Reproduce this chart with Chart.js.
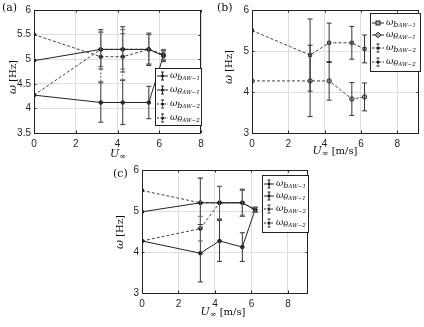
<!DOCTYPE html>
<html>
<head>
<meta charset="utf-8">
<script src="https://cdn.jsdelivr.net/npm/chart.js@4.4.1/dist/chart.umd.min.js"></script>
<style>
  body { margin: 0; background: #fff; width: 424px; height: 327px; position: relative; overflow: hidden; }
  .pan { position: absolute; }
  .tag { position: absolute; font-family: "DejaVu Serif", serif; font-size: 11px; color: #111; }
</style>
</head>
<body>
<div class="pan" style="left:0;top:0;width:212px;height:165px"><canvas id="ca"></canvas></div>
<div class="pan" style="left:212px;top:0;width:212px;height:165px"><canvas id="cb"></canvas></div>
<div class="pan" style="left:100px;top:160px;width:220px;height:167px"><canvas id="cc"></canvas></div>
<div class="tag" style="left:2px;top:1px">(a)</div>
<div class="tag" style="left:217px;top:1px">(b)</div>
<div class="tag" style="left:113px;top:167px">(c)</div>
<script>
// wind speeds [m/s]
const U = [0, 3.2, 4.25, 5.5, 6.2];

// (a)
const aB1 = [4.97, 5.2, 5.2, 5.2, 5.07];
const aB1err = [0, 0.4, 0.46, 0.33, 0.12];
const aT1 = [4.27, 4.12, 4.12, 4.12, 5.07];
const aT1err = [0, 0.4, 0.45, 0.33, 0.1];
const aB2 = [5.5, 5.05, 5.05, 5.2, 5.1];
const aB2err = [0, 0.5, 0.47, 0.3, 0.1];
const aT2 = [4.27, 5.2, 5.2, 5.2, 5.07];
const aT2err = [0, 0.35, 0.4, 0.3, 0.1];

// (b)
const bB2 = [5.5, 4.9, 5.2, 5.2, 5.05];
const bB2err = [0, 0.88, 0.48, 0.4, 0.34];
const bT2 = [4.27, 4.27, 4.27, 3.83, 3.88];
const bT2err = [0, 0.87, 0.47, 0.4, 0.34];

// (c)
const cB1 = [4.98, 5.2, 5.2, 5.2, 5.03];
const cB1err = [0, 0.6, 0.4, 0.33, 0.06];
const cT1 = [4.27, 3.97, 4.27, 4.12, 5.03];
const cT1err = [0, 0.7, 0.5, 0.35, 0.06];
const cB2 = [5.5, 5.2, 5.2, 5.2, 5.03];
const cB2err = [0, 0.6, 0.4, 0.33, 0.06];
const cT2 = [4.27, 4.57, 5.2, 5.2, 5.03];
const cT2err = [0, 0.3, 0.4, 0.3, 0.06];

const xTicks = [0, 2, 4, 6, 8];
const yTicksA = [3.5, 4, 4.5, 5, 5.5, 6];
const yTicksBC = [3, 4, 5, 6];

const legendNames = [["b", "AW\u22121"], ["\u03b8", "AW\u22121"], ["b", "AW\u22122"], ["\u03b8", "AW\u22122"]];

const SERIF = '"DejaVu Serif", serif';
const INK = "#222";

function pts(ys) { return U.map((x, i) => ({ x: x, y: ys[i] })); }

function series(ys, err, dashed, extra) {
  return Object.assign({
    data: pts(ys),
    err: err,
    borderColor: dashed ? "#444" : INK,
    borderWidth: 1,
    borderDash: dashed ? [3, 2] : [],
    pointRadius: 1.8,
    pointBackgroundColor: INK,
    pointBorderColor: INK,
    errColor: dashed ? "#666" : "#333",
    errDash: dashed ? [2, 1.5] : [],
    tension: 0
  }, extra || {});
}

function richText(ctx, parts, x, y, align) {
  let w = 0;
  parts.forEach(p => { ctx.font = p.f; w += ctx.measureText(p.t).width; });
  let cx = align === "center" ? x - w / 2 : x;
  parts.forEach(p => {
    ctx.font = p.f;
    ctx.fillText(p.t, cx, y + (p.dy || 0));
    cx += ctx.measureText(p.t).width;
  });
}

function errGlyph(ctx, x, y, dashed) {
  ctx.save();
  ctx.strokeStyle = INK;
  ctx.lineWidth = 1;
  ctx.setLineDash(dashed ? [1.5, 1] : []);
  ctx.beginPath();
  ctx.moveTo(x, y - 4); ctx.lineTo(x, y + 4);
  ctx.stroke();
  ctx.setLineDash([]);
  ctx.beginPath();
  ctx.moveTo(x - 1.5, y - 4); ctx.lineTo(x + 1.5, y - 4);
  ctx.moveTo(x - 1.5, y + 4); ctx.lineTo(x + 1.5, y + 4);
  ctx.stroke();
  ctx.fillStyle = INK;
  ctx.beginPath(); ctx.arc(x, y, 1.5, 0, Math.PI * 2); ctx.fill();
  ctx.restore();
}

const decor = {
  id: "decor",
  afterDatasetsDraw(chart) {
    const ctx = chart.ctx, xs = chart.scales.x, ys = chart.scales.y;
    const a = chart.chartArea;
    ctx.save();
    ctx.beginPath(); ctx.rect(a.left, a.top, a.right - a.left, a.bottom - a.top); ctx.clip();
    chart.data.datasets.forEach(ds => {
      if (!ds.err) return;
      ctx.strokeStyle = ds.errColor;
      ctx.lineWidth = 1;
      ds.data.forEach((p, i) => {
        const e = ds.err[i];
        if (!e) return;
        const px = xs.getPixelForValue(p.x);
        const lo = ys.getPixelForValue(p.y - e), hi = ys.getPixelForValue(p.y + e);
        ctx.setLineDash(ds.errDash);
        ctx.beginPath(); ctx.moveTo(px, lo); ctx.lineTo(px, hi); ctx.stroke();
        ctx.setLineDash([]);
        ctx.beginPath();
        ctx.moveTo(px - 2.5, lo); ctx.lineTo(px + 2.5, lo);
        ctx.moveTo(px - 2.5, hi); ctx.lineTo(px + 2.5, hi);
        ctx.stroke();
      });
    });
    ctx.restore();
  },
  afterDraw(chart) {
    const o = chart.options.plugins.decor;
    const ctx = chart.ctx, a = chart.chartArea;
    ctx.save();
    // box and inward ticks
    ctx.strokeStyle = INK; ctx.lineWidth = 1;
    ctx.strokeRect(Math.round(a.left) + 0.5, Math.round(a.top) + 0.5, Math.round(a.right - a.left) - 1, Math.round(a.bottom - a.top));
    ctx.beginPath();
    chart.scales.x.ticks.forEach(t => {
      const px = Math.round(chart.scales.x.getPixelForValue(t.value)) + 0.5;
      ctx.moveTo(px, a.bottom); ctx.lineTo(px, a.bottom - 2.5);
      ctx.moveTo(px, a.top); ctx.lineTo(px, a.top + 2.5);
    });
    chart.scales.y.ticks.forEach(t => {
      const py = Math.round(chart.scales.y.getPixelForValue(t.value)) + 0.5;
      ctx.moveTo(a.left, py); ctx.lineTo(a.left + 2.5, py);
      ctx.moveTo(a.right, py); ctx.lineTo(a.right - 2.5, py);
    });
    ctx.stroke();

    ctx.fillStyle = "#111";
    ctx.textBaseline = "middle";
    // x title
    const xt = [{ t: "U", f: "italic 11px " + SERIF }, { t: "\u221e", f: "8px " + SERIF, dy: 3 }];
    if (o.units) xt.push({ t: " [m/s]", f: "10px " + SERIF });
    richText(ctx, xt, o.xTitle[0], o.xTitle[1], "center");
    // y title
    ctx.save();
    ctx.translate(o.yTitle[0], o.yTitle[1]);
    ctx.rotate(-Math.PI / 2);
    richText(ctx, [{ t: "\u03c9", f: "italic 11px " + SERIF }, { t: " [Hz]", f: "10px " + SERIF }], 0, 0, "center");
    ctx.restore();

    // legend
    const L = o.legend;
    ctx.fillStyle = "#fff";
    ctx.fillRect(L.box[0], L.box[1], L.box[2], L.box[3]);
    ctx.strokeStyle = INK; ctx.lineWidth = 1;
    ctx.strokeRect(L.box[0] + 0.5, L.box[1] + 0.5, L.box[2], L.box[3]);
    L.rows.forEach((ry, k) => {
      const dashed = L.dash[k];
      ctx.strokeStyle = INK;
      ctx.setLineDash(dashed ? [2, 1.5] : []);
      ctx.beginPath(); ctx.moveTo(L.x0, ry); ctx.lineTo(L.x1, ry); ctx.stroke();
      ctx.setLineDash([]);
      const mx = (L.x0 + L.x1) / 2;
      if (L.marks[k] === "rect") {
        ctx.fillStyle = "#aaa"; ctx.fillRect(mx - 2, ry - 2, 4, 4);
        ctx.strokeRect(mx - 2, ry - 2, 4, 4);
      } else if (L.marks[k] === "diamond") {
        ctx.fillStyle = "#aaa";
        ctx.beginPath(); ctx.moveTo(mx, ry - 2.8); ctx.lineTo(mx + 2.8, ry); ctx.lineTo(mx, ry + 2.8); ctx.lineTo(mx - 2.8, ry); ctx.closePath();
        ctx.fill(); ctx.stroke();
      } else {
        errGlyph(ctx, mx, ry, dashed);
      }
      ctx.fillStyle = "#111";
      const nm = legendNames[k];
      richText(ctx, [
        { t: "\u03c9", f: "italic 9px " + SERIF },
        { t: nm[0], f: "italic 8px " + SERIF, dy: 1.5 },
        { t: nm[1], f: "italic 5.5px " + SERIF, dy: 3 }
      ], L.x1 + 2, ry, "left");
    });
    ctx.restore();
  }
};

function makeChart(id, datasets, cfg) {
  return new Chart(document.getElementById(id), {
    type: "line",
    data: { datasets: datasets },
    plugins: [decor],
    options: {
      responsive: true,
      maintainAspectRatio: false,
      animation: false,
      layout: { padding: { left: 0, right: cfg.padRight, top: 10, bottom: 0 } },
      plugins: { legend: { display: false }, tooltip: { enabled: false }, decor: cfg.decor },
      scales: {
        x: {
          type: "linear", min: 0, max: cfg.xMax,
          afterBuildTicks: s => { s.ticks = xTicks.map(v => ({ value: v })); },
          afterFit: s => { s.height = cfg.xH; },
          grid: { color: "#dedede", drawTicks: false },
          border: { display: false },
          ticks: { padding: 5, color: "#262626", font: { family: "Liberation Sans", size: 10 }, callback: v => String(v) }
        },
        y: {
          min: cfg.yTicks[0], max: cfg.yTicks[cfg.yTicks.length - 1],
          afterBuildTicks: s => { s.ticks = cfg.yTicks.map(v => ({ value: v })); },
          afterFit: s => { s.width = cfg.yW; },
          grid: { color: "#dedede", drawTicks: false },
          border: { display: false },
          ticks: { padding: 3, color: "#262626", font: { family: "Liberation Sans", size: 10 }, callback: v => String(v) }
        }
      }
    }
  });
}

makeChart("ca", [
  series(aB1, aB1err, false),
  series(aT1, aT1err, false),
  series(aB2, aB2err, true),
  series(aT2, aT2err, true)
], {
  xMax: 8, yTicks: yTicksA, padRight: 11, xH: 32, yW: 34,
  decor: {
    xTitle: [118, 154], yTitle: [13, 77], units: false,
    legend: { box: [155, 68, 46, 57], rows: [76, 90, 104, 118], x0: 157, x1: 168,
      dash: [false, false, true, true], marks: ["err", "err", "err", "err"] }
  }
});

const bMarks = { pointRadius: 2.2, pointBackgroundColor: "#aaa", pointBorderColor: "#333", errColor: "#333", errDash: [] };
makeChart("cb", [
  series(bB2, bB2err, true, Object.assign({ pointStyle: "rect" }, bMarks)),
  series(bT2, bT2err, true, Object.assign({ pointStyle: "circle" }, bMarks))
], {
  xMax: 9.2, yTicks: yTicksBC, padRight: 4, xH: 32, yW: 40,
  decor: {
    xTitle: [123, 151], yTitle: [17, 67], units: true,
    legend: { box: [158, 13, 50, 58], rows: [23, 35, 48, 62], x0: 160, x1: 172,
      dash: [false, false, true, true], marks: ["rect", "diamond", "err", "err"] }
  }
});

makeChart("cc", [
  series(cB1, cB1err, false),
  series(cT1, cT1err, false),
  series(cB2, cB2err, true),
  series(cT2, cT2err, true)
], {
  xMax: 9.1, yTicks: yTicksBC, padRight: 12, xH: 34, yW: 42,
  decor: {
    xTitle: [123, 152], yTitle: [20, 72], units: true,
    legend: { box: [162, 15, 46, 57], rows: [24, 36, 49, 63], x0: 164, x1: 174,
      dash: [false, false, true, true], marks: ["err", "err", "err", "err"] }
  }
});
</script>
</body>
</html>
